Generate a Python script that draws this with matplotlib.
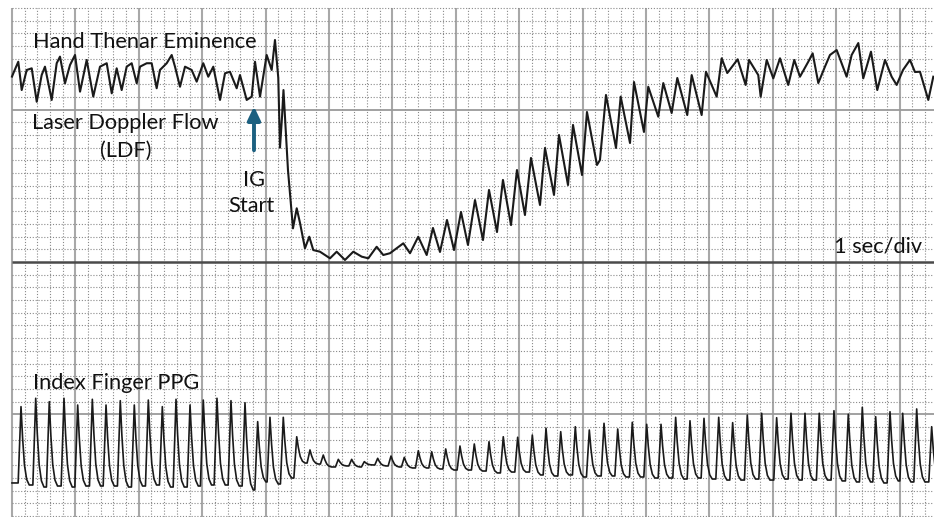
import matplotlib
matplotlib.use("Agg")
import matplotlib.pyplot as plt
import numpy as np

# ---- data (time in s, amplitude in chart divisions) ----
# laser doppler flow trace, vertices
ldf_t = [0.0, 0.021, 0.099, 0.153, 0.232, 0.311, 0.390, 0.468, 0.520, 0.626, 0.705, 0.757,
         0.836, 0.915, 0.994, 1.073, 1.178, 1.282, 1.388, 1.494, 1.573, 1.651, 1.730, 1.809,
         1.888, 1.967, 2.019, 2.125, 2.203, 2.282, 2.334, 2.440, 2.519, 2.571, 2.650, 2.729,
         2.834, 2.913, 3.017, 3.096, 3.175, 3.281, 3.360, 3.438, 3.544, 3.596, 3.702, 3.781,
         3.833, 3.912, 4.017, 4.096, 4.148,
         4.200, 4.227, 4.260, 4.282, 4.353, 4.432, 4.491, 4.543, 4.621, 4.689, 4.752, 4.858,
         5.016, 5.121, 5.252, 5.383, 5.516, 5.620, 5.752, 5.856, 5.962, 6.172, 6.278, 6.408,
         6.541, 6.640, 6.751, 6.861, 6.972, 7.082, 7.192, 7.303, 7.429, 7.524, 7.650, 7.744,
         7.871, 7.965, 8.091, 8.186, 8.328, 8.407, 8.549, 8.628, 8.770, 8.849, 8.991, 9.069,
         9.227, 9.274, 9.369, 9.527, 9.601, 9.748, 9.811, 9.968, 10.036, 10.194, 10.273,
         10.405, 10.494, 10.651, 10.721, 10.878, 10.946, 11.115, 11.194, 11.282, 11.377,
         11.446, 11.572, 11.625, 11.771, 11.809, 11.904, 12.008, 12.114, 12.244, 12.339,
         12.429, 12.560, 12.629, 12.718, 12.823, 12.902, 13.008, 13.165, 13.244, 13.349,
         13.427, 13.549, 13.648, 13.770, 13.875, 13.954, 14.054, 14.164, 14.243, 14.322,
         14.453, 14.532]
ldf_v = [14.60, 14.86, 15.77, 13.54, 15.12, 15.25, 12.62, 14.72, 15.38, 12.76, 15.65, 16.17,
         14.07, 15.51, 16.30, 13.41, 15.91, 13.02, 15.38, 15.65, 13.28, 15.25, 13.54, 15.38,
         15.65, 14.07, 15.38, 15.65, 15.65, 13.68, 15.12, 15.65, 16.30, 15.38, 13.80, 15.38,
         15.12, 14.20, 15.65, 14.59, 15.38, 12.76, 14.86, 14.98, 13.68, 14.72, 12.76, 13.02,
         15.77, 13.02, 16.30, 15.12, 17.48,
         14.50, 9.00, 11.50, 13.54, 7.24, 2.65, 4.23, 3.07, 1.08, 1.99, 0.94, 0.81,
         0.29, 0.81, 0.16, 0.81, 0.42, 0.29, 1.20, 0.55, 0.69, 1.47, 0.69, 1.99,
         0.55, 2.68, 0.79, 3.31, 0.94, 3.94, 1.34, 4.88, 1.73, 5.67, 2.36, 6.46,
         2.91, 7.24, 3.70, 8.19, 4.49, 8.98, 5.28, 10.00, 6.06, 10.79, 6.85, 11.81,
         7.64, 8.03, 13.15, 8.98, 13.02, 9.37, 14.17, 10.24, 13.80, 11.44, 14.09,
         11.73, 14.49, 11.57, 14.72, 11.57, 14.98, 13.02, 16.04, 14.88, 15.51,
         15.96, 13.94, 15.91, 14.72, 13.02, 15.91, 14.46, 16.04, 13.94, 15.91,
         14.59, 15.77, 16.43, 14.09, 15.38, 16.30, 16.69, 14.59, 16.30, 17.24,
         14.46, 16.56, 13.54, 15.91, 14.59, 13.94, 15.12, 15.91, 14.96, 14.98,
         12.76, 14.59]

# index finger PPG: beat peak times, peak level, foot (trough) level
ppg_beat_t = [0.142, 0.374, 0.588, 0.820, 1.036, 1.267, 1.483, 1.708, 1.929, 2.150,
              2.371, 2.587, 2.808, 3.017, 3.233, 3.454, 3.675, 3.875, 4.069, 4.279,
              4.491, 4.700, 4.910, 5.147, 5.358, 5.557, 5.768, 5.978, 6.188, 6.409,
              6.620, 6.841, 7.066, 7.292, 7.524, 7.749, 7.976, 8.207, 8.423, 8.655,
              8.885, 9.106, 9.338, 9.554, 9.784, 10.011, 10.237, 10.468, 10.694, 10.915,
              11.147, 11.367, 11.598, 11.825, 12.061, 12.287, 12.508, 12.733, 12.965, 13.191,
              13.412, 13.623, 13.849, 14.049, 14.270, 14.506]
ppg_peak = [-11.39, -10.73, -11.00, -10.73, -11.26, -10.81, -11.26, -10.92, -11.26, -10.87,
            -11.39, -10.81, -11.26, -10.87, -10.73, -10.92, -11.08, -12.57, -12.23, -12.23,
            -13.76, -14.80, -15.20, -15.54, -15.54, -15.72, -15.46, -15.28, -15.38, -14.86,
            -14.94, -14.72, -14.49, -14.33, -14.15, -13.76, -13.80, -13.62, -13.09, -13.36,
            -12.97, -13.23, -12.70, -13.15, -12.62, -12.78, -12.78, -12.23, -12.50, -12.31,
            -12.23, -12.65, -12.05, -11.91, -12.26, -11.91, -11.91, -11.91, -11.71, -11.99,
            -11.44, -12.18, -11.79, -11.91, -11.57, -12.97]
ppg_foot = [-17.40, -17.56, -17.72, -17.64, -17.72, -17.64, -17.64, -17.64, -17.72, -17.64,
            -17.56, -17.72, -17.72, -17.64, -17.56, -17.56, -17.64, -17.95, -17.32, -17.48,
            -17.01, -15.83, -15.91, -16.14, -16.06, -16.14, -15.98, -16.06, -16.14, -16.22,
            -16.22, -16.30, -16.38, -16.38, -16.46, -16.61, -16.54, -16.54, -16.77, -16.85,
            -16.77, -16.93, -16.85, -16.85, -16.93, -16.93, -17.01, -17.01, -17.09, -17.01,
            -17.09, -17.17, -17.17, -17.09, -17.17, -17.09, -17.17, -17.17, -17.17, -17.24,
            -17.32, -17.32, -17.40, -17.24, -17.32, -17.32]

# shape of one pulse after its peak: (time offset s, fraction of height above next foot)
PULSE_SHAPE = [(0.025, 0.6), (0.055, 0.25), (0.09, 0.07), (0.13, 0.0)]
RISE = 0.045

ppg_t, ppg_v = [0.0], [ppg_foot[0]]
n = len(ppg_beat_t)
for i in range(n):
    tp, pk, ft = ppg_beat_t[i], ppg_peak[i], ppg_foot[i]
    base = ppg_foot[i + 1] if i + 1 < n else ft
    ppg_t += [tp - RISE, tp]
    ppg_v += [ft, pk]
    for dt, fr in PULSE_SHAPE:
        ppg_t.append(tp + dt)
        ppg_v.append(base + fr * (pk - base))

# ---- figure ----
fig = plt.figure(figsize=(9.34, 5.17), dpi=100)
ax = fig.add_axes([0, 0, 1, 1])
ax.set_xlim(-0.1893, 14.543)
ax.set_ylim(-20.08, 20.63)
ax.axis("off")

top = 20
minor_t = np.arange(0, 14.55, 0.2)
minor_t = minor_t[np.abs(minor_t - np.round(minor_t)) > 1e-6]
ax.vlines(minor_t, -20.08, top, colors="#8a8a8a", linewidth=0.8,
          linestyles=(0, (1, 1.6)), zorder=1)
ax.vlines(np.arange(0, 15), -20.08, top, colors="#a8a8a8", linewidth=1.5, zorder=1)
rows = [r for r in range(-20, 21) if r not in (-12, 0, 12)]
ax.hlines(rows, 0, 14.543, colors="#8a8a8a", linewidth=0.8,
          linestyles=(0, (1, 1.6)), zorder=1)
ax.hlines([-12, 12], 0, 14.543, colors="#9a9a9a", linewidth=1.3, zorder=1)
ax.hlines([0], 0, 14.543, colors="#4a4a4a", linewidth=1.8, zorder=1)

ax.plot(ldf_t, ldf_v, color="#1a1a1a", linewidth=1.5, zorder=3)
ax.plot(ppg_t, ppg_v, color="#1a1a1a", linewidth=1.2, zorder=3)

font = dict(family="Lato", fontsize=15.7, color="#111111")
ax.text(0.331, 16.83, "Hand Thenar Eminence", ha="left", va="baseline", zorder=4, **font)
ax.text(0.315, 10.45, "Laser Doppler Flow", ha="left", va="baseline", zorder=4, **font)
ax.text(1.795, 8.29, "(LDF)", ha="center", va="baseline", zorder=4, **font)
ax.text(3.820, 5.98, "IG", ha="center", va="baseline", zorder=4, **font)
ax.text(3.781, 3.96, "Start", ha="center", va="baseline", zorder=4, **font)
ax.text(14.353, 0.76, "1 sec/div", ha="right", va="baseline", zorder=4, **font)
ax.text(0.336, -10.02, "Index Finger PPG", ha="left", va="baseline", zorder=4, **font)

ax.annotate("", xy=(3.817, 12.25), xytext=(3.817, 8.8),
            arrowprops=dict(arrowstyle="-|>,head_length=0.8,head_width=0.38",
                            color="#1c6080", linewidth=2.8, shrinkA=0, shrinkB=0),
            zorder=5)

fig.savefig("out.png", dpi=100)
